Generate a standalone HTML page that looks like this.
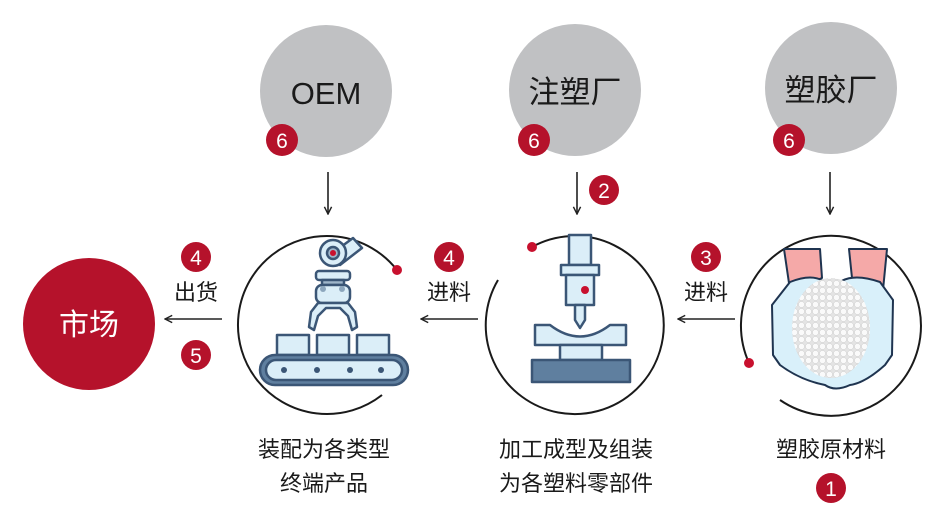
<!DOCTYPE html>
<html><head><meta charset="utf-8"><style>
body{margin:0;background:#fff;}
svg text{font-family:"Liberation Sans","Noto Sans CJK SC",sans-serif;}
</style></head><body>
<svg width="945" height="515" viewBox="0 0 945 515" xmlns="http://www.w3.org/2000/svg">
<defs>
<marker id="ar" viewBox="0 0 10 10" refX="9" refY="5" markerWidth="9" markerHeight="9" orient="auto-start-reverse" markerUnits="userSpaceOnUse">
<path d="M1,1 L9,5 L1,9" fill="none" stroke="#222" stroke-width="1.6"/>
</marker>
<pattern id="pel" width="7" height="7" patternUnits="userSpaceOnUse">
<rect width="7" height="7" fill="#e4e4e4"/>
<circle cx="3.5" cy="3.5" r="3" fill="#fafafa" stroke="#cfcfcf" stroke-width="0.5"/>
</pattern>
</defs>

<circle cx="326" cy="91" r="66" fill="#c0c1c3"/>
<circle cx="575" cy="90" r="66" fill="#c0c1c3"/>
<circle cx="831" cy="88" r="66" fill="#c0c1c3"/>
<text x="326" y="104" font-size="31" text-anchor="middle" fill="#1a1a1a">OEM</text>
<text x="575" y="103" font-size="31" text-anchor="middle" fill="#1a1a1a">注塑厂</text>
<text x="831" y="101" font-size="31" text-anchor="middle" fill="#1a1a1a">塑胶厂</text>

<g fill="#b5122b">
<circle cx="282" cy="140" r="16"/><circle cx="534" cy="140" r="16"/><circle cx="789" cy="140" r="16"/>
<circle cx="604" cy="190" r="15"/>
<circle cx="196" cy="257" r="15"/><circle cx="196" cy="355" r="15"/>
<circle cx="449" cy="257" r="15"/><circle cx="706" cy="257" r="15"/>
<circle cx="831" cy="488" r="15"/>
</g>
<g fill="#fff" font-size="21" text-anchor="middle">
<text x="282" y="148">6</text><text x="534" y="148">6</text><text x="789" y="148">6</text>
<text x="604" y="198">2</text>
<text x="196" y="265">4</text><text x="196" y="363">5</text>
<text x="449" y="265">4</text><text x="706" y="265">3</text>
<text x="831" y="496">1</text>
</g>

<g stroke="#222" stroke-width="1.6">
<line x1="328" y1="172" x2="328" y2="214" marker-end="url(#ar)"/>
<line x1="577" y1="172" x2="577" y2="214" marker-end="url(#ar)"/>
<line x1="830" y1="172" x2="830" y2="214" marker-end="url(#ar)"/>
<line x1="222" y1="319" x2="165" y2="319" marker-end="url(#ar)"/>
<line x1="478" y1="319" x2="421" y2="319" marker-end="url(#ar)"/>
<line x1="735" y1="319" x2="678" y2="319" marker-end="url(#ar)"/>
</g>
<g font-size="22" text-anchor="middle" fill="#1a1a1a">
<text x="196" y="300">出货</text>
<text x="449" y="300">进料</text>
<text x="706" y="300">进料</text>
</g>

<circle cx="89" cy="324" r="66" fill="#b5122b"/>
<text x="89" y="335" font-size="30" text-anchor="middle" fill="#fff">市场</text>

<g fill="none" stroke="#1a1a1a" stroke-width="2">
<path d="M397,270 A89,89 0 1 0 382,395"/>
<path d="M532,247 A89,89 0 1 1 498,280"/>
<path d="M749,363 A90,90 0 1 1 780,400"/>
</g>
<circle cx="397" cy="270" r="5" fill="#c8102e"/>
<circle cx="532" cy="247" r="5" fill="#c8102e"/>
<circle cx="749" cy="363" r="5" fill="#c8102e"/>

<g stroke="#3b5676" stroke-width="2.5" fill="#dbeef8" stroke-linejoin="round">
<path d="M330,255 L353,238 L362,248 L340,265 Z"/>
<circle cx="333" cy="253" r="13"/>
<circle cx="333" cy="253" r="6" fill="#9fb6ca"/>
<rect x="316" y="271" width="34" height="9" rx="3"/>
<rect x="322" y="280" width="22" height="5" fill="#9fb6ca"/>
<rect x="316" y="285" width="34" height="18" rx="6"/>
<path d="M318,303 L348,303 L355,312 L357,327 L352,330 L348,316 L340,308 L326,308 L318,316 L314,330 L309,327 L311,312 Z"/>
<rect x="277" y="335" width="32" height="20"/>
<rect x="317" y="335" width="32" height="20"/>
<rect x="357" y="335" width="32" height="20"/>
<rect x="260" y="355" width="148" height="30" rx="15" fill="#5f7f9f"/>
<rect x="266" y="360" width="136" height="20" rx="10"/>
</g>
<g fill="#3b5676">
<circle cx="284" cy="370" r="3"/><circle cx="317" cy="370" r="3"/><circle cx="350" cy="370" r="3"/><circle cx="381" cy="370" r="3"/>
</g>
<circle cx="333" cy="253" r="3" fill="#c8102e"/>
<circle cx="323" cy="289" r="3" fill="#8ca6bd"/><circle cx="342" cy="289" r="3" fill="#8ca6bd"/>

<g stroke="#3b5676" stroke-width="2.5" fill="#dbeef8" stroke-linejoin="round">
<rect x="569" y="235" width="22" height="30"/>
<rect x="561" y="265" width="38" height="10"/>
<rect x="566" y="275" width="28" height="30"/>
<path d="M575,305 L585,305 L585,320 L580,328 L575,320 Z"/>
<path d="M535,325 L550,325 Q580,348 610,325 L626,325 L626,345 L535,345 Z"/>
<rect x="560" y="345" width="42" height="15"/>
<rect x="532" y="360" width="98" height="22" fill="#5f7f9f"/>
</g>
<circle cx="585" cy="290" r="4" fill="#c8102e"/>

<g stroke="#1f3450" stroke-width="2" stroke-linejoin="round">
<path d="M784,249 L820,249 L822,278 L790,290 Z" fill="#f5a9a8"/>
<path d="M849,249 L887,249 L883,290 L852,278 Z" fill="#f5a9a8"/>
<path d="M790,282 Q820,270 832,290 Q845,270 880,282 L893,300 L892,355 L885,365 Q865,383 850,385 Q835,392 825,385 Q800,380 780,365 L773,355 L772,305 Z" fill="#d9f0fa"/>
</g>
<ellipse cx="831" cy="328" rx="39" ry="50" fill="url(#pel)"/>

<g font-size="22" text-anchor="middle" fill="#1a1a1a">
<text x="324" y="457">装配为各类型</text>
<text x="324" y="491">终端产品</text>
<text x="576" y="457">加工成型及组装</text>
<text x="576" y="491">为各塑料零部件</text>
<text x="831" y="457">塑胶原材料</text>
</g>
</svg>
</body></html>
